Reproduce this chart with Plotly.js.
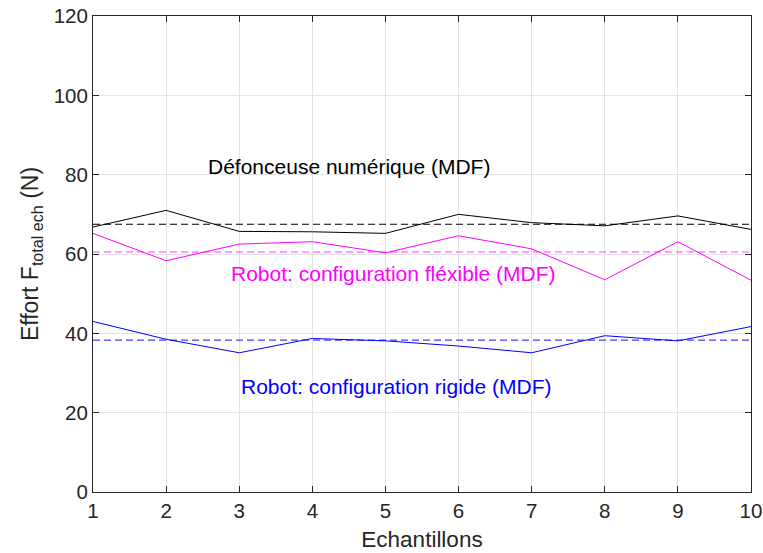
<!DOCTYPE html>
<html><head><meta charset="utf-8">
<script src="https://cdn.plot.ly/plotly-3.0.1.min.js"></script>
<style>html,body{margin:0;padding:0;background:#fff;}#chart{width:763px;height:553px;}</style>
</head><body><div id="chart"></div>
<script>
const samples = [1,2,3,4,5,6,7,8,9,10];
const defonceuse = [66.8,71.0,65.7,65.6,65.2,70.0,67.9,67.1,69.6,66.2];
const robotFlexible = [65.2,58.3,62.5,63.1,60.3,64.6,61.3,53.5,63.1,53.4];
const robotRigide = [43.0,38.5,35.1,38.7,38.1,36.8,35.1,39.4,38.1,41.7];
const meanDefonceuse = 67.5;
const meanFlexible = 60.5;
const meanRigide = 38.3;
const labels = ["Défonceuse numérique (MDF)","Robot: configuration fléxible (MDF)","Robot: configuration rigide (MDF)"];
const labelPos = [[4.5,82.0],[5.1,55.2],[5.15,26.5]];
const colors = ["#000000","#ff00ff","#0000ff"];
const yTicks = [0,20,40,60,80,100,120];

const series = [defonceuse, robotFlexible, robotRigide];
const means = [meanDefonceuse, meanFlexible, meanRigide];
const traces = [];
series.forEach((s,i)=>{
  traces.push({x:samples,y:s,mode:'lines',line:{color:colors[i],width:1},hoverinfo:'none'});
  traces.push({x:[samples[0],samples[samples.length-1]],y:[means[i],means[i]],mode:'lines',
    line:{color:colors[i],width:1.2,dash:'7px,4px'},opacity:i===0?1:0.75,hoverinfo:'none'});
});
const font = {family:'"Liberation Sans", Arial, sans-serif', color:'#262626'};
const annotations = labels.map((t,i)=>({x:labelPos[i][0],y:labelPos[i][1],xref:'x',yref:'y',text:t,showarrow:false,
  font:{family:font.family,size:21,color:colors[i]},xanchor:'center',yanchor:'middle'}));
const layout = {
  width:763,height:553,margin:{l:93,r:12,t:16,b:61},
  paper_bgcolor:'#fff',plot_bgcolor:'#fff',showlegend:false,
  font:font,
  xaxis:{range:[1,10],tickvals:samples,ticktext:samples.map(String),ticks:'inside',ticklen:6,tickcolor:'#262626',
    showline:true,linecolor:'#262626',linewidth:1,mirror:'ticks',showgrid:true,gridcolor:'#e3e3e3',zeroline:false,
    tickfont:{size:20.5,color:'#262626',family:font.family},
    title:{text:'Echantillons',font:{size:22.5,color:'#262626',family:font.family},standoff:10}},
  yaxis:{range:[0,120],tickvals:yTicks,ticks:'inside',ticklen:6,tickcolor:'#262626',
    showline:true,linecolor:'#262626',linewidth:1,mirror:'ticks',showgrid:true,gridcolor:'#e3e3e3',zeroline:false,
    tickfont:{size:20.5,color:'#262626',family:font.family},
    title:{text:'Effort F<sub>total ech</sub> (N)',font:{size:23,color:'#262626',family:font.family},standoff:8}},
  annotations:annotations
};
Plotly.newPlot('chart',traces,layout,{staticPlot:true,displayModeBar:false});
</script></body></html>
